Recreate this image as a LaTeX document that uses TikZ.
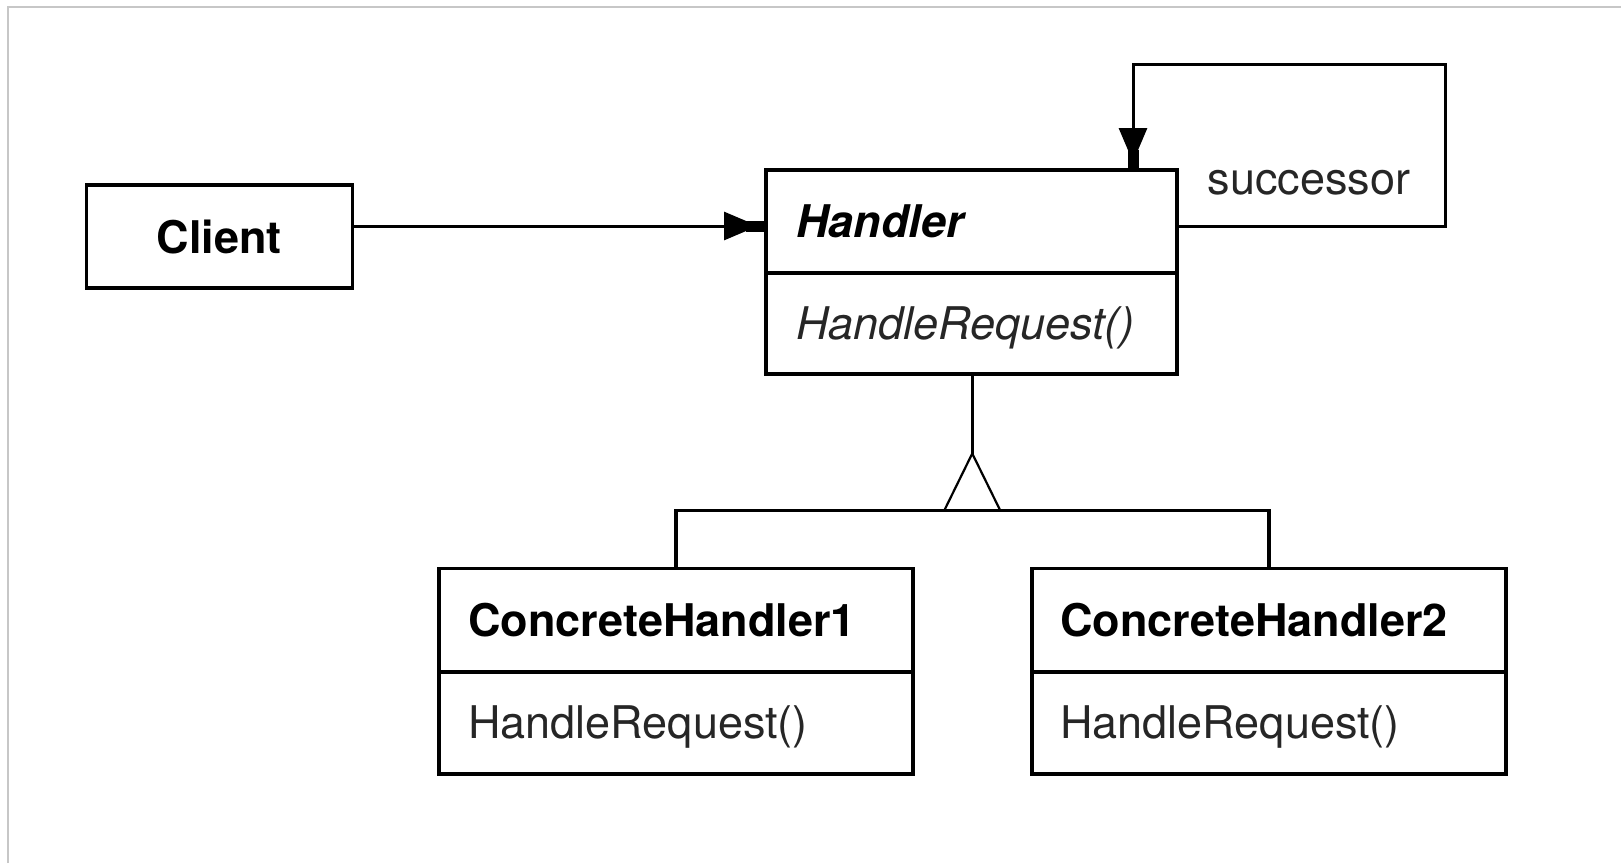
\documentclass[tikz,border=0pt]{standalone}
\usepackage{fontspec}
\setmainfont{TeX Gyre Heros}
\usetikzlibrary{arrows.meta,calc}
\begin{document}
\begin{tikzpicture}[x=1pt,y=-1pt,
  cls/.style={draw=black, line width=3.5pt, inner sep=0pt, anchor=north west, fill=white},
  lbl/.style={anchor=base west, inner sep=0pt, text=black!85, font=\fontsize{45}{54}\selectfont},
  blbl/.style={lbl, text=black, font=\fontsize{45}{54}\selectfont\bfseries},
  assoc/.style={line width=3pt, -{Triangle[length=34pt,width=28pt,sep=-12pt]Rectangle[length=18pt,width=11pt]}},
  inh/.style={line width=3pt},
  tri/.style={line width=2.2pt, line join=miter},
  frame/.style={draw=black!22, line width=1.5pt}]
\useasboundingbox (0,0) rectangle (1621,863);
\draw[frame] (8,863) -- (8,7) -- (1621,7);

% classes
\node[cls, minimum width=266pt, minimum height=103pt] (client) at (84.5,183) {};
\node[blbl, anchor=base] (clientT) at ($(client.center)+(0,17)$) {Client};

\node[cls, minimum width=411pt, minimum height=103pt] (hname) at (764,168) {};
\node[cls, minimum width=411pt, minimum height=101pt] (hops) at (764,271) {};
\node[blbl, font=\fontsize{45}{54}\selectfont\bfseries\itshape] (hnameT) at ($(hname.west)+(32,16)$) {Handler};
\node[lbl, font=\fontsize{45}{54}\selectfont\itshape] (hopsT) at ($(hops.west)+(32,16)$) {HandleRequest()};

\node[cls, minimum width=474pt, minimum height=103.5pt] (c1name) at (437,566.5) {};
\node[cls, minimum width=474pt, minimum height=102pt] (c1ops) at (437,670) {};
\node[blbl] (c1nameT) at ($(c1name.west)+(31,16)$) {ConcreteHandler1};
\node[lbl] (c1opsT) at ($(c1ops.west)+(31,16)$) {HandleRequest()};

\node[cls, minimum width=474pt, minimum height=103.5pt] (c2name) at (1030,566.5) {};
\node[cls, minimum width=474pt, minimum height=102pt] (c2ops) at (1030,670) {};
\node[blbl] (c2nameT) at ($(c2name.west)+(30,16)$) {ConcreteHandler2};
\node[lbl] (c2opsT) at ($(c2ops.west)+(30,16)$) {HandleRequest()};

% client -> handler
\coordinate (cl) at ($(client.north east)+(0,43)$);
\draw[assoc] (cl) -- (cl -| hname.west);

% successor loop
\coordinate (lp) at (1445,64);
\coordinate (sc) at ($(hname.north west)+(369,0)$);
\draw[assoc] (cl -| hname.east) -| (lp) -| (sc);
\node[lbl] (succT) at (1207.5,194) {successor};

% inheritance
\coordinate (apex) at ($(hops.south)+(1,78)$);
\draw[inh] ($(hops.south)+(1,0)$) -- (apex);
\draw[tri] (apex) -- ++(-28,57) -- ++(56,0) -- cycle;
\draw[line width=3.5pt] (c1name.north) |- ($(apex)+(0,57)$) -| (c2name.north);
\end{tikzpicture}
\end{document}
